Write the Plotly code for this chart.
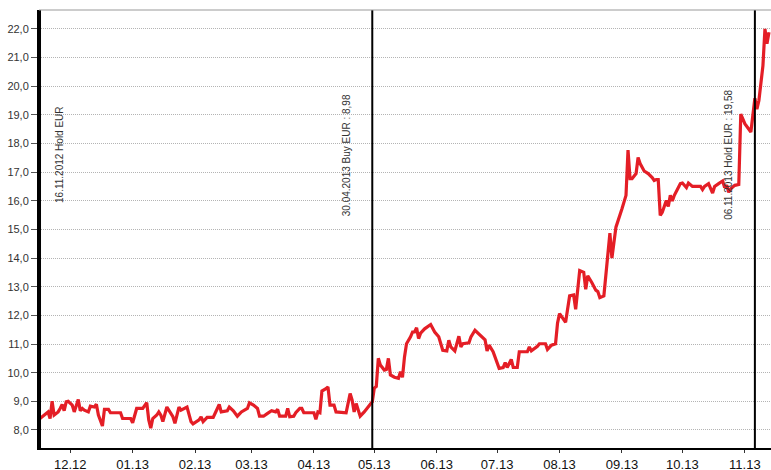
import plotly.graph_objects as go

dates = [
    "2012-11-16", "2012-11-18", "2012-11-20", "2012-11-21", "2012-11-22", "2012-11-23",
    "2012-11-25", "2012-11-26", "2012-11-27", "2012-11-28", "2012-11-29", "2012-11-30",
    "2012-12-02", "2012-12-03", "2012-12-05", "2012-12-06", "2012-12-07", "2012-12-08",
    "2012-12-10", "2012-12-11", "2012-12-13", "2012-12-14", "2012-12-15", "2012-12-17",
    "2012-12-18", "2012-12-20", "2012-12-21", "2012-12-26", "2012-12-27", "2012-12-31",
    "2013-01-01", "2013-01-03", "2013-01-06", "2013-01-08", "2013-01-09", "2013-01-10",
    "2013-01-11", "2013-01-13", "2013-01-14", "2013-01-15", "2013-01-16", "2013-01-18",
    "2013-01-19", "2013-01-21", "2013-01-22", "2013-01-24", "2013-01-25", "2013-01-27",
    "2013-01-28", "2013-01-30", "2013-01-31",
    "2013-02-03", "2013-02-04", "2013-02-05", "2013-02-07", "2013-02-10", "2013-02-11",
    "2013-02-13", "2013-02-14", "2013-02-17", "2013-02-18", "2013-02-20", "2013-02-22",
    "2013-02-24", "2013-02-27", "2013-02-28",
    "2013-03-02", "2013-03-04", "2013-03-05", "2013-03-07", "2013-03-09", "2013-03-11",
    "2013-03-13", "2013-03-14", "2013-03-15", "2013-03-16", "2013-03-18", "2013-03-19",
    "2013-03-20", "2013-03-22", "2013-03-23", "2013-03-25", "2013-03-26", "2013-03-27",
    "2013-04-01", "2013-04-02", "2013-04-03", "2013-04-04", "2013-04-05", "2013-04-07",
    "2013-04-08", "2013-04-09", "2013-04-11", "2013-04-12", "2013-04-17", "2013-04-19",
    "2013-04-20", "2013-04-21", "2013-04-22", "2013-04-24", "2013-04-26", "2013-04-29",
    "2013-04-30",
    "2013-05-01", "2013-05-02", "2013-05-03", "2013-05-04", "2013-05-06", "2013-05-07",
    "2013-05-08", "2013-05-09", "2013-05-11", "2013-05-13", "2013-05-14", "2013-05-15",
    "2013-05-16", "2013-05-17", "2013-05-19", "2013-05-20", "2013-05-21", "2013-05-22",
    "2013-05-23", "2013-05-24", "2013-05-26", "2013-05-29", "2013-05-31",
    "2013-06-01", "2013-06-02", "2013-06-04", "2013-06-06", "2013-06-07", "2013-06-08",
    "2013-06-10", "2013-06-12", "2013-06-13", "2013-06-14", "2013-06-17", "2013-06-18",
    "2013-06-20", "2013-06-21", "2013-06-23", "2013-06-25", "2013-06-26", "2013-06-27",
    "2013-06-29",
    "2013-07-01", "2013-07-02", "2013-07-04", "2013-07-05", "2013-07-06", "2013-07-08",
    "2013-07-09", "2013-07-11", "2013-07-12", "2013-07-16", "2013-07-17", "2013-07-18",
    "2013-07-21", "2013-07-22", "2013-07-25", "2013-07-26", "2013-07-28", "2013-07-30",
    "2013-07-31",
    "2013-08-01", "2013-08-04", "2013-08-06", "2013-08-08", "2013-08-09", "2013-08-11",
    "2013-08-13", "2013-08-14", "2013-08-15", "2013-08-17", "2013-08-19", "2013-08-20",
    "2013-08-21", "2013-08-23", "2013-08-26", "2013-08-27", "2013-08-29",
    "2013-09-01", "2013-09-03", "2013-09-04", "2013-09-05", "2013-09-06", "2013-09-08",
    "2013-09-09", "2013-09-10", "2013-09-12", "2013-09-14", "2013-09-16", "2013-09-17",
    "2013-09-18", "2013-09-19", "2013-09-20", "2013-09-21", "2013-09-22", "2013-09-23",
    "2013-09-24", "2013-09-25", "2013-09-26", "2013-09-27", "2013-09-29", "2013-09-30",
    "2013-10-01", "2013-10-03", "2013-10-04", "2013-10-06", "2013-10-10", "2013-10-11",
    "2013-10-12", "2013-10-14", "2013-10-16", "2013-10-17", "2013-10-19", "2013-10-21",
    "2013-10-22", "2013-10-23", "2013-10-24", "2013-10-25", "2013-10-27", "2013-10-29",
    "2013-10-30",
    "2013-11-01", "2013-11-04", "2013-11-06", "2013-11-07", "2013-11-08", "2013-11-10",
    "2013-11-11", "2013-11-12", "2013-11-13",
]

prices = [
    8.40, 8.52, 8.63, 8.40, 9.00, 8.52,
    8.63, 8.75, 8.89, 8.67, 8.98, 9.00,
    8.87, 8.63, 9.06, 8.67, 8.75, 8.69,
    8.63, 8.83, 8.80, 8.90, 8.52, 8.14,
    8.72, 8.72, 8.60, 8.60, 8.40, 8.40,
    8.25, 8.75, 8.75, 8.95, 8.35, 8.06,
    8.40, 8.52, 8.63, 8.52, 8.29, 8.80,
    8.69, 8.46, 8.23, 8.80, 8.69, 8.75,
    8.80, 8.29, 8.21,
    8.35, 8.46, 8.29, 8.44, 8.44, 8.58,
    8.89, 8.63, 8.67, 8.80, 8.67, 8.48,
    8.63, 8.75, 8.95,
    8.87, 8.75, 8.48, 8.48, 8.58, 8.67,
    8.63, 8.72, 8.48, 8.48, 8.48, 8.75,
    8.46, 8.48, 8.60, 8.75, 8.75, 8.60,
    8.60, 8.37, 8.63, 8.60, 9.36, 9.44,
    9.50, 8.87, 8.87, 8.63, 8.60, 9.27,
    9.04, 8.63, 8.92, 8.48, 8.63, 8.90,
    8.98,
    9.46, 9.52, 10.50, 10.27, 10.09, 10.11,
    10.50, 9.92, 9.84, 9.80, 10.03, 9.84,
    10.55, 11.01, 11.25, 11.42, 11.42, 11.57,
    11.19, 11.38, 11.53, 11.68, 11.42,
    11.34, 11.25, 10.78, 10.76, 11.13, 10.90,
    10.76, 11.27, 10.90, 11.01, 11.04, 11.25,
    11.48, 11.42, 11.27, 11.15, 10.76, 10.96,
    10.73,
    10.32, 10.15, 10.18, 10.35, 10.18, 10.46,
    10.18, 10.18, 10.73, 10.73, 10.90, 10.76,
    10.92, 11.01, 11.01, 10.81, 10.96, 11.01,
    11.73,
    12.06, 11.76, 12.68, 12.71, 12.21, 13.56,
    13.50, 12.91, 13.38, 13.15, 12.88, 12.83,
    12.62, 12.68, 14.87, 14.00, 15.08,
    15.72, 16.19, 17.77, 16.77, 16.77, 16.95,
    17.51, 17.30, 17.04, 16.95, 16.81, 16.71,
    16.74, 16.74, 15.49, 15.60, 15.80, 16.01,
    15.80, 16.19, 15.99, 16.19, 16.46, 16.60,
    16.62, 16.46, 16.62, 16.50, 16.50, 16.39,
    16.50, 16.60, 16.27, 16.50, 16.60, 16.69,
    16.46, 16.54, 16.30, 16.42, 16.54, 16.57,
    19.03,
    18.69, 18.40, 19.58, 19.20, 19.50, 20.72,
    22.00, 21.48, 21.88,
]

signal_dates = ["2012-11-16", "2013-04-30", "2013-11-06"]
signal_texts = ["16.11.2012 Hold EUR", "30.04.2013 Buy EUR : 8,98", "06.11.2013 Hold EUR : 19,58"]
signal_shift = [20, -25, -26]

y_ticks = list(range(8, 23))

fig = go.Figure()
fig.add_trace(go.Scatter(
    x=dates, y=prices, mode="lines",
    line=dict(color="#e41e26", width=3.2),
    showlegend=False, hoverinfo="x+y",
))

for d, t, s in zip(signal_dates, signal_texts, signal_shift):
    fig.add_shape(type="line", xref="x", yref="paper", x0=d, x1=d, y0=0, y1=1,
                  line=dict(color="black", width=2), layer="above")
    fig.add_annotation(x=d, xref="x", y=0.669, yref="paper", text=t, textangle=-90,
                       showarrow=False, xanchor="center", yanchor="middle", xshift=s,
                       font=dict(size=10, color="#333333", family="Liberation Sans, Arial"))

fig.add_shape(type="line", xref="paper", yref="paper", x0=0, x1=1, y0=1, y1=1,
              line=dict(color="#999999", width=1))

fig.update_layout(
    width=771, height=470,
    margin=dict(l=39, r=0, t=10, b=22, autoexpand=False),
    paper_bgcolor="white", plot_bgcolor="white",
    separators=", ",
    font=dict(family="Liberation Sans, Arial, sans-serif", color="#222222"),
    showlegend=False,
)
fig.update_xaxes(
    type="date", range=["2012-11-15 12:00", "2013-11-14 00:00"],
    tick0="2012-12-01", dtick="M1", tickformat="%m.%y",
    showline=True, linecolor="black", linewidth=2,
    ticks="outside", ticklen=3, tickcolor="#333333",
    showgrid=False, zeroline=False,
    tickfont=dict(size=13, color="#111111"),
)
fig.update_yaxes(
    range=[7.37, 22.66], tickvals=y_ticks, tickformat=".1f",
    showline=True, linecolor="black", linewidth=2,
    ticks="outside", ticklen=6, tickcolor="#555555",
    showgrid=True, gridcolor="#b4b4b4", gridwidth=1, griddash="1px,1px",
    zeroline=False,
    tickfont=dict(size=11, color="#333333"),
)

fig.write_html("out.html", config={"displayModeBar": False},
               post_script="document.body.style.margin='0';document.body.style.padding='0';")
